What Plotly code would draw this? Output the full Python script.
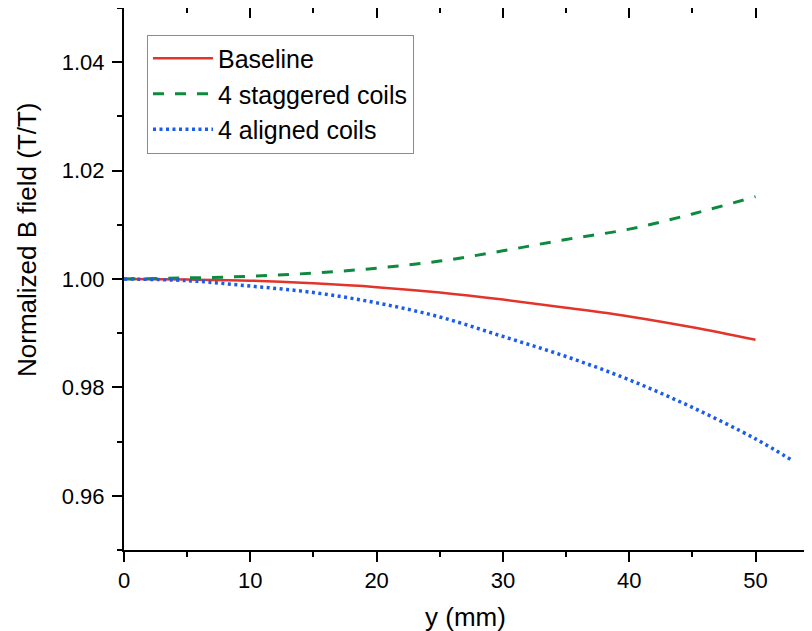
import plotly.graph_objects as go

# Data
y_pos = [0, 5, 10, 15, 20, 25, 30, 35, 40, 45, 50]
baseline = [1.0000, 0.9999, 0.9997, 0.9992, 0.9985, 0.9975, 0.9962, 0.9947, 0.9931, 0.9911, 0.9888]
staggered = [1.0000, 1.0002, 1.0005, 1.0011, 1.0020, 1.0033, 1.0052, 1.0073, 1.0092, 1.0120, 1.0152]
y_pos_aligned = [0, 5, 10, 15, 20, 25, 30, 35, 40, 45, 50, 53]
aligned = [1.0000, 0.9997, 0.9987, 0.9975, 0.9956, 0.9930, 0.9894, 0.9857, 0.9814, 0.9763, 0.9705, 0.9664]

x_ticks = [0, 10, 20, 30, 40, 50]
y_ticks = [0.96, 0.98, 1.00, 1.02, 1.04]
y_tick_labels = ["0.96", "0.98", "1.00", "1.02", "1.04"]

FONT = "Liberation Sans, Arial, sans-serif"

fig = go.Figure()
fig.add_trace(go.Scatter(x=y_pos, y=baseline, mode="lines", name="Baseline",
                         line=dict(color="#e3342b", width=2.5, shape="spline")))
fig.add_trace(go.Scatter(x=y_pos, y=staggered, mode="lines", name="4 staggered coils",
                         line=dict(color="#0d8a3e", width=3, dash="11px,11px", shape="spline")))
fig.add_trace(go.Scatter(x=y_pos_aligned, y=aligned, mode="lines", name="4 aligned coils",
                         line=dict(color="#1a5cf0", width=3.5, dash="3px,3.5px", shape="spline")))
# invisible helper trace so the secondary (mirror) axes are drawn
fig.add_trace(go.Scatter(x=y_pos, y=baseline, xaxis="x2", yaxis="y2", mode="lines",
                         line=dict(width=0), opacity=0, showlegend=False, hoverinfo="skip"))

x_range = [0, 54.47]
y_range = [0.95, 1.05]

# the page body has an 8px default margin, so the figure is 8px smaller
fig.update_layout(
    width=804, height=623,
    margin=dict(l=116, r=0, t=0, b=81, autoexpand=False),
    paper_bgcolor="white", plot_bgcolor="white",
    font=dict(family=FONT, size=22, color="black"),
    showlegend=True,
    legend=dict(x=0.0334, y=0.951, xanchor="left", yanchor="top",
                bordercolor="#8c8c8c", borderwidth=1, bgcolor="rgba(255,255,255,0)",
                font=dict(size=25, family=FONT, color="black"),
                itemwidth=60, tracegroupgap=0),
    xaxis=dict(range=x_range, tickvals=x_ticks, ticks="outside", ticklen=10, tickwidth=2,
               tickcolor="black", showline=True, linewidth=2, linecolor="black", mirror=True,
               showgrid=False, zeroline=False, ticklabelstandoff=0, automargin=False,
               tickfont=dict(size=22, family=FONT, color="black"),
               minor=dict(dtick=5, tick0=0, ticks="outside", ticklen=5, tickwidth=2, tickcolor="black")),
    yaxis=dict(range=y_range, tickvals=y_ticks, ticktext=y_tick_labels, ticks="outside", ticklen=10,
               tickwidth=2, tickcolor="black", showline=True, linewidth=2, linecolor="black",
               mirror=False, showgrid=False, zeroline=False, ticklabelstandoff=3, automargin=False,
               tickfont=dict(size=22, family=FONT, color="black"),
               minor=dict(dtick=0.01, tick0=0.95, ticks="outside", ticklen=5, tickwidth=2, tickcolor="black")),
    xaxis2=dict(range=x_range, overlaying="x", side="top", anchor="y", tickvals=x_ticks,
                ticks="inside", ticklen=10, tickwidth=2, tickcolor="black", showticklabels=False,
                showline=False, showgrid=False, zeroline=False, automargin=False,
                minor=dict(dtick=5, tick0=0, ticks="inside", ticklen=5, tickwidth=2, tickcolor="black")),
    yaxis2=dict(range=y_range, overlaying="y", side="right", anchor="x", tickvals=y_ticks,
                ticks="inside", ticklen=4, tickwidth=2, tickcolor="black", showticklabels=False,
                showline=False, showgrid=False, zeroline=False, automargin=False),
    annotations=[
        dict(text="Normalized B field (T/T)", textangle=-90, xref="paper", yref="paper",
             x=0, y=0.572, xanchor="center", yanchor="middle", xshift=-97, showarrow=False,
             font=dict(size=26, family=FONT, color="black")),
        dict(text="y (mm)", xref="paper", yref="paper",
             x=0.5, y=0, xanchor="center", yanchor="middle", xshift=-3, yshift=-67, showarrow=False,
             font=dict(size=26, family=FONT, color="black")),
    ],
)

fig.write_html("out.html")
